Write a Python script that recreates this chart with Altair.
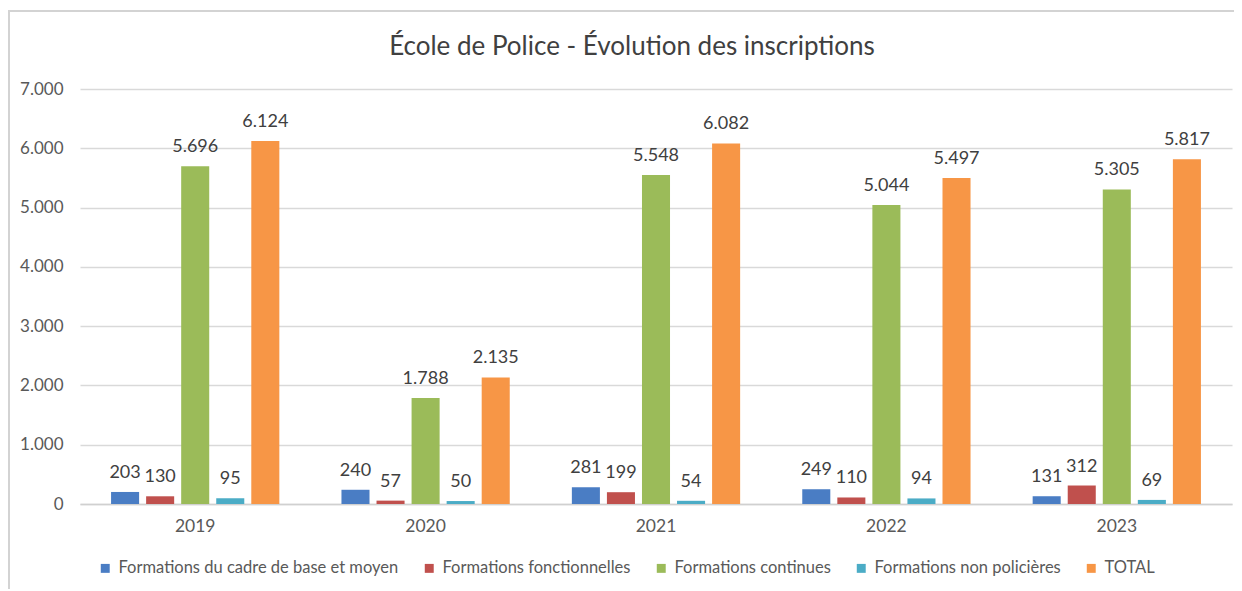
import altair as alt
import pandas as pd

years = ["2019", "2020", "2021", "2022", "2023"]
series = [
    "Formations du cadre de base et moyen",
    "Formations fonctionnelles",
    "Formations continues",
    "Formations non policières",
    "TOTAL",
]
cadre = [203, 240, 281, 249, 131]
fonctionnelles = [130, 57, 199, 110, 312]
continues = [5696, 1788, 5548, 5044, 5305]
non_policieres = [95, 50, 54, 94, 69]
total = [6124, 2135, 6082, 5497, 5817]
colors = ["#4A7DC4", "#C0504D", "#9BBB59", "#4BACC6", "#F79646"]

rows = []
for s, vals in zip(series, [cadre, fonctionnelles, continues, non_policieres, total]):
    for y, v in zip(years, vals):
        rows.append({"year": y, "series": s, "value": v})
df = pd.DataFrame(rows)

FONT = "Lato"
TXT = "#595959"

base = alt.Chart(df).encode(
    x=alt.X("year:N", sort=years,
            scale=alt.Scale(paddingInner=0, paddingOuter=0),
            axis=alt.Axis(title=None, labelAngle=0, ticks=False, domain=True,
                          domainColor="#d0d0d0", domainWidth=1.5,
                          labelFontSize=17.5, labelColor=TXT, labelFont=FONT,
                          labelPadding=13, grid=False)),
    xOffset=alt.XOffset("series:N", sort=series,
                        scale=alt.Scale(paddingInner=0.2, paddingOuter=0.886)),
)

bars = base.mark_bar().encode(
    y=alt.Y("value:Q", scale=alt.Scale(domain=[0, 7000]),
            axis=alt.Axis(title=None, values=[0, 1000, 2000, 3000, 4000, 5000, 6000, 7000],
                          labelExpr="replace(format(datum.value, ','), ',', '.')",
                          domain=False, ticks=False, gridColor="#d9d9d9", gridWidth=1.5,
                          labelFontSize=17, labelColor=TXT, labelFont=FONT,
                          labelPadding=17)),
    color=alt.Color("series:N", sort=series,
                    scale=alt.Scale(domain=series, range=colors),
                    legend=alt.Legend(title=None, orient="none", direction="horizontal",
                                      legendX=17, legendY=471, symbolType="square",
                                      symbolSize=80, symbolStrokeWidth=0,
                                      labelFontSize=16.5, labelColor=TXT, labelFont=FONT,
                                      columnPadding=22, labelOffset=5, labelLimit=500)),
)

labels = base.transform_calculate(
    lbl="replace(format(datum.value, ','), ',', '.')"
).mark_text(baseline="bottom", dy=-10, fontSize=18, color="#404040", font=FONT).encode(
    y=alt.Y("value:Q"),
    text="lbl:N",
)

frame = alt.Chart(pd.DataFrame({"a": [0]})).mark_rect(
    filled=False, stroke="#d3d3d3", strokeWidth=2
).encode(
    x=alt.value(-71), x2=alt.value(1200), y=alt.value(-78), y2=alt.value(520)
)

chart = alt.layer(frame, bars, labels).properties(
    width=1152, height=415,
    background="white",
    title=alt.TitleParams("École de Police - Évolution des inscriptions",
                          fontSize=26, font=FONT, fontWeight="normal", color="#404040",
                          anchor="middle", offset=-50, dx=-24),
    padding={"left": 72, "top": 81, "right": 2, "bottom": 85},
    autosize=alt.AutoSizeParams(type="none"),
).configure_view(strokeWidth=0)

chart.save("out.html", embed_options={"renderer": "svg", "actions": False})
